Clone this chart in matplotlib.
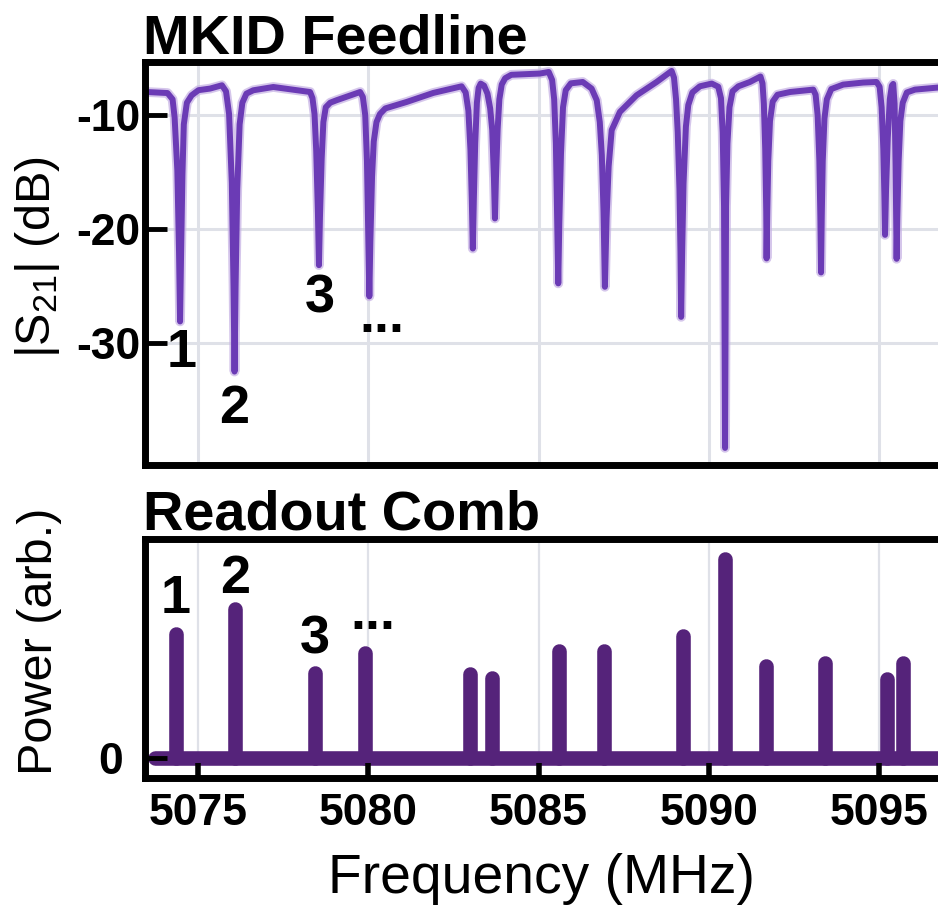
import matplotlib
matplotlib.use("Agg")
import matplotlib.pyplot as plt

plt.rcParams['font.family'] = ['Liberation Sans', 'DejaVu Sans']
plt.rcParams['mathtext.fontset'] = 'custom'
plt.rcParams['mathtext.rm'] = 'Liberation Sans'
plt.rcParams['mathtext.it'] = 'Liberation Sans:italic'
plt.rcParams['mathtext.bf'] = 'Liberation Sans:bold'

# ---------------- data ----------------
s21_freq = [
    5073.40, 5073.49, 5074.10,
    5074.25, 5074.31, 5074.39, 5074.44, 5074.47, 5074.50, 5074.54, 5074.58, 5074.67, 5074.81, 5075.01, 5075.35, 5075.70,
    5075.82, 5075.91, 5075.99, 5076.04, 5076.07, 5076.10, 5076.15, 5076.22, 5076.30, 5076.42, 5076.62, 5077.21, 5078.29,
    5078.36, 5078.42, 5078.47, 5078.52, 5078.55, 5078.58, 5078.63, 5078.68, 5078.75, 5078.88, 5079.07, 5079.76,
    5079.84, 5079.91, 5079.96, 5080.00, 5080.03, 5080.06, 5080.11, 5080.16, 5080.24, 5080.34, 5080.50, 5081.13, 5081.91, 5082.74,
    5082.86, 5082.94, 5083.00, 5083.04, 5083.07, 5083.10, 5083.14, 5083.19, 5083.24, 5083.30,
    5083.40, 5083.50, 5083.58, 5083.64, 5083.69, 5083.72, 5083.75, 5083.80, 5083.85, 5083.92, 5084.02, 5084.20, 5085.04, 5085.30,
    5085.40, 5085.46, 5085.51, 5085.55, 5085.58, 5085.61, 5085.66, 5085.72, 5085.80, 5085.95, 5086.30, 5086.56, 5086.71,
    5086.80, 5086.86, 5086.91, 5086.95, 5087.00, 5087.06, 5087.15, 5087.39, 5087.88, 5088.47, 5088.91,
    5088.98, 5089.04, 5089.09, 5089.14, 5089.17, 5089.19, 5089.22, 5089.26, 5089.33, 5089.40, 5089.52, 5089.74, 5090.09, 5090.28,
    5090.36, 5090.41, 5090.45, 5090.48, 5090.51, 5090.55, 5090.61, 5090.70, 5090.87, 5091.21, 5091.52,
    5091.58, 5091.62, 5091.66, 5091.69, 5091.70, 5091.72, 5091.75, 5091.80, 5091.88, 5092.02, 5092.39, 5093.07,
    5093.14, 5093.20, 5093.25, 5093.28, 5093.30, 5093.32, 5093.35, 5093.40, 5093.47, 5093.60, 5093.95, 5094.54, 5094.93,
    5095.02, 5095.08, 5095.13, 5095.16, 5095.18, 5095.21, 5095.26, 5095.32, 5095.38, 5095.42,
    5095.46, 5095.49, 5095.51, 5095.52, 5095.54, 5095.58, 5095.63, 5095.70, 5095.82, 5096.06, 5096.73, 5097.10,
]
s21_db = [
    -7.95, -7.96, -8.05,
    -8.6, -10.2, -14.86, -22.08, -28.1, -22.22, -15.2, -10.8, -8.9, -8.25, -7.8, -7.66, -7.37,
    -7.9, -9.9, -15.93, -24.97, -32.5, -25.2, -16.46, -10.8, -8.9, -8.1, -7.81, -7.52, -7.96,
    -8.5, -9.9, -13.13, -18.6, -23.16, -18.91, -13.81, -10.6, -9.3, -8.9, -8.68, -7.96,
    -8.4, -10.0, -14.0, -20.5, -25.9, -21.1, -15.4, -12.3, -10.6, -9.9, -9.4, -8.83, -8.04, -7.46,
    -8.0, -9.6, -13.0, -17.41, -21.7, -17.4, -12.5, -8.9, -7.6, -7.22,
    -7.4, -8.1, -9.4, -11.3, -15.5, -19.06, -15.5, -11.2, -8.6, -7.3, -6.75, -6.45, -6.34, -6.2,
    -6.9, -8.6, -12.5, -19.2, -24.76, -19.6, -13.4, -9.3, -7.8, -7.2, -7.08, -7.66, -8.68,
    -10.6, -13.5, -18.5, -25.06, -19.0, -14.5, -11.3, -9.71, -8.25, -7.08, -6.11,
    -6.7, -8.6, -11.5, -16.5, -22.0, -27.7, -22.0, -16.0, -11.0, -9.1, -8.0, -7.46, -7.22, -7.5,
    -8.5, -11.5, -18.0, -39.2, -18.0, -12.5, -9.3, -7.9, -7.46, -7.08, -6.6,
    -7.2, -9.0, -13.0, -18.5, -22.57, -18.5, -14.0, -10.5, -8.8, -8.2, -7.96, -7.75,
    -8.2, -10.0, -14.0, -19.0, -23.8, -19.0, -14.0, -10.3, -8.6, -7.7, -7.31, -7.13, -7.08,
    -7.5, -9.3, -13.0, -17.0, -20.5, -16.5, -12.0, -8.6, -7.4, -7.25,
    -9.0, -14.5, -19.5, -22.6, -19.0, -14.0, -10.5, -8.9, -8.0, -7.75, -7.57, -7.6,
]

comb_freq = [5074.35, 5076.09, 5078.42, 5079.91, 5082.99, 5083.63, 5085.61,
             5086.92, 5089.24, 5090.47, 5091.68, 5093.43, 5095.24, 5095.71]
comb_power = [0.566, 0.680, 0.389, 0.480, 0.384, 0.364, 0.486,
              0.486, 0.556, 0.907, 0.418, 0.434, 0.361, 0.433]
comb_base_span = [5073.74, 5097.50]

x_ticks = [5075, 5080, 5085, 5090, 5095]
s21_ticks = [-10, -20, -30]
power_ticks = [0]

top_labels = ["1", "2", "3", "..."]
top_label_f = [5074.52, 5076.06, 5078.58, 5080.40]
top_label_db = [-32.1, -37.0, -27.3, -29.0]
bot_label_f = [5074.34, 5076.10, 5078.42, 5080.14]
bot_label_p = [0.661, 0.752, 0.478, 0.588]

# ---------------- styling ----------------
W, H = 938, 907
fig = plt.figure(figsize=(W / 100, H / 100), dpi=100)

left = 145 / W
width = (947 - 145) / W
ax1 = fig.add_axes([left, 1 - 465 / H, width, (465 - 61.7) / H])
ax2 = fig.add_axes([left, 1 - 777.5 / H, width, (777.5 - 538.5) / H])

trace_col = '#6b3bb5'
halo_col = '#c4afe3'
comb_col = '#55237a'
grid_col = '#dfe1e8'
xlim = (5073.44, 5097.0)

for ax in (ax1, ax2):
    ax.set_xlim(*xlim)
    for s in ax.spines.values():
        s.set_linewidth(5)
        s.set_color('black')
    ax.set_axisbelow(False)
    ax.set_xticks(x_ticks)

# top panel
for xv in x_ticks:
    ax1.axvline(xv, color=grid_col, lw=2.2, zorder=0.5)
for yv in s21_ticks:
    ax1.axhline(yv, color=grid_col, lw=2.2, zorder=0.5)
ax1.plot(s21_freq, s21_db, color=halo_col, lw=7.0, alpha=0.7,
         solid_joinstyle='round', solid_capstyle='round', zorder=1.8)
ax1.plot(s21_freq, s21_db, color=trace_col, lw=4.3,
         solid_joinstyle='round', solid_capstyle='round', zorder=2)
ax1.set_ylim(-40.7, -5.3)
ax1.set_yticks(s21_ticks)
ax1.set_yticklabels([str(v) for v in s21_ticks])
ax1.tick_params(axis='y', direction='in', length=16, width=3.5, pad=3.5,
                labelsize=32)
ax1.tick_params(axis='x', length=0, labelbottom=False)
for lab in ax1.get_yticklabels():
    lab.set_fontweight('bold')
for t, f, d in zip(top_labels, top_label_f, top_label_db):
    ax1.text(f, d, t, ha='center', va='baseline', fontsize=39,
             fontweight='bold', zorder=3)

# bottom panel
for xv in x_ticks:
    ax2.axvline(xv, color=grid_col, lw=1.6, zorder=0.5)
ax2.plot(comb_base_span, [0, 0], color=comb_col, lw=10.5,
         solid_capstyle='round', zorder=2)
for f, p in zip(comb_freq, comb_power):
    ax2.plot([f, f], [0, p], color=comb_col, lw=10.5,
             solid_capstyle='round', zorder=2)
ax2.set_ylim(-0.0888, 1.0)
ax2.set_yticks(power_ticks)
ax2.set_yticklabels([str(v) for v in power_ticks])
ax2.tick_params(axis='y', direction='in', length=16, width=3.5, pad=16,
                labelsize=32)
ax2.tick_params(axis='x', direction='in', length=11, width=4, pad=11,
                labelsize=32)
ax2.set_xticklabels([str(v) for v in x_ticks])
for lab in ax2.get_yticklabels() + ax2.get_xticklabels():
    lab.set_fontweight('bold')
for t, f, p in zip(top_labels, bot_label_f, bot_label_p):
    ax2.text(f, p, t, ha='center', va='baseline', fontsize=39,
             fontweight='bold', zorder=3)

# titles and axis labels
fig.text(143 / W, 1 - 53.5 / H, "MKID Feedline", fontsize=40.2,
         fontweight='bold', ha='left', va='baseline')
fig.text(143 / W, 1 - 529.5 / H, "Readout Comb", fontsize=40.2,
         fontweight='bold', ha='left', va='baseline')
fig.text(38 / W, 1 - 257 / H, r"|S$_{\mathrm{21}}$| (dB)", fontsize=35,
         rotation=90, ha='center', va='center')
fig.text(39 / W, 1 - 641 / H, "Power (arb.)", fontsize=35,
         rotation=90, ha='center', va='center')
fig.text(541 / W, 1 - 893 / H, "Frequency (MHz)", fontsize=39.8,
         ha='center', va='baseline')

fig.savefig("out.png", dpi=100)
